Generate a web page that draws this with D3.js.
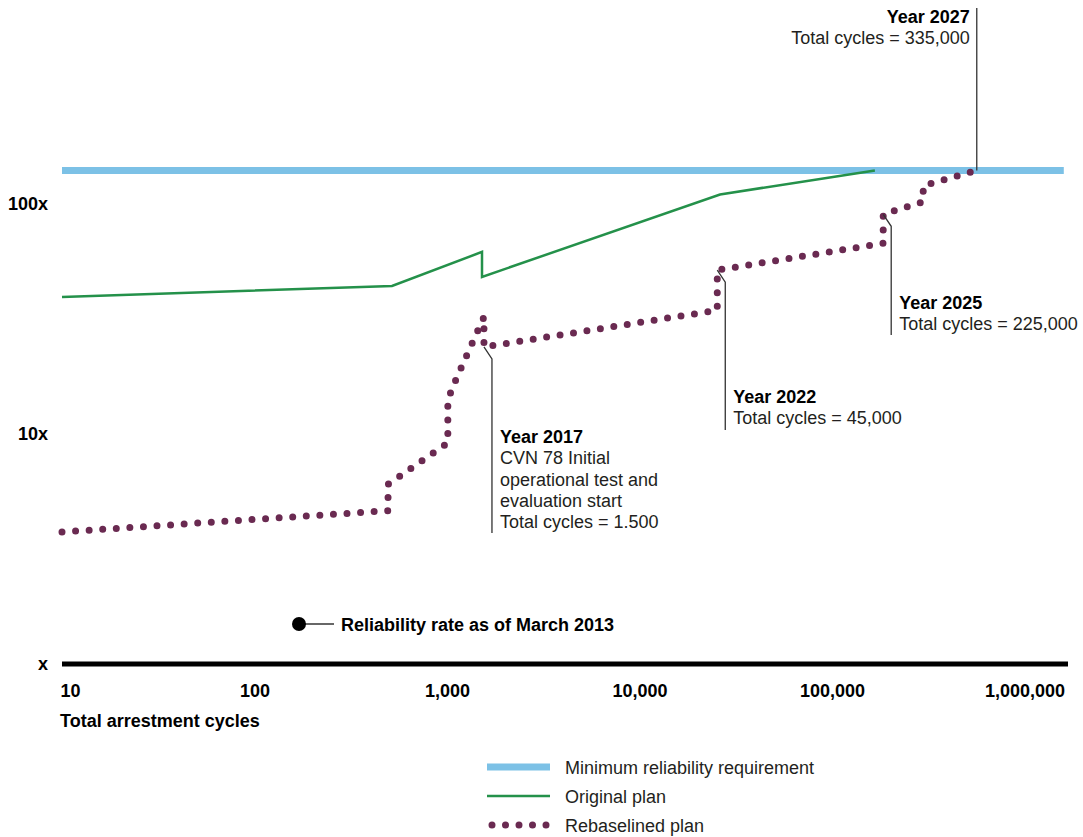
<!DOCTYPE html>
<html>
<head>
<meta charset="utf-8">
<script src="https://cdn.jsdelivr.net/npm/d3@7"></script>
<style>
  body { margin: 0; background: #fff; }
  svg { font-family: "Liberation Sans", Arial, sans-serif; }
</style>
</head>
<body>
<svg id="chart" width="1083" height="837"></svg>
<script>
// values
var tickValues = [10, 100, 1000, 10000, 100000, 1000000]
var tickLabels = ["10", "100", "1,000", "10,000", "100,000", "1,000,000"]
var yTickValues = [1, 10, 100]
var yTickLabels = ["x", "10x", "100x"]

var requirementCycles = [10, 1600000]
var requirementRate = 140

var originalCycles = [10, 518, 1520, 1520, 26200, 167000]
var originalRates = [39.4, 44, 61.9, 48.2, 110, 140]

var rebaselinedCycles = [10, 494, 494, 1010, 1010, 1050, 1122, 1282, 1556, 1556, 25350, 25350, 184500, 184500, 297700, 297700, 565000]
var rebaselinedRates = [3.75, 4.64, 6.04, 9.14, 13.6, 15.4, 17.5, 22.5, 32.3, 23.9, 34.5, 51.6, 67.5, 90.2, 102.3, 120, 140]

var annotations = [
    {cycles: 1556, rate: 23.9, lineEnd: 533, textTop: 443, lines: ["Year 2017", "CVN 78 Initial", "operational test and", "evaluation start", "Total cycles = 1.500"]},
    {cycles: 25350, rate: 51.6, lineEnd: 430, textTop: 403, lines: ["Year 2022", "Total cycles = 45,000"]},
    {cycles: 184500, rate: 90.2, lineEnd: 335, textTop: 309, lines: ["Year 2025", "Total cycles = 225,000"]}
]
var topAnnotation = {cycles: 565000, rate: 140, lines: ["Year 2027", "Total cycles = 335,000"]}

var colors = {
    requirement: "#7cc1e6",
    original: "#24914a",
    rebaselined: "#6a2a51",
    text: "#231f20"
}

var fontSize = 18

var svg = d3.select("#chart")

var xScale = d3.scaleLog()
               .domain([10, 1000000])
               .range([62, 1024.5])
var yScale = d3.scaleLog()
               .domain([1, 1000])
               .range([664, -26])

var line = d3.line()
             .x(d => xScale(d[0]))
             .y(d => yScale(d[1]))

// requirement
svg.append("path")
   .datum(requirementCycles.map(c => [c, requirementRate]))
   .attr("d", line)
   .attr("fill", "none")
   .attr("stroke", colors.requirement)
   .attr("stroke-width", 7)

// original plan
svg.append("path")
   .datum(originalCycles.map((c, i) => [c, originalRates[i]]))
   .attr("d", line)
   .attr("fill", "none")
   .attr("stroke", colors.original)
   .attr("stroke-width", 2.5)

// rebaselined plan, round dots
svg.append("path")
   .datum(rebaselinedCycles.map((c, i) => [c, rebaselinedRates[i]]))
   .attr("d", line)
   .attr("fill", "none")
   .attr("stroke", colors.rebaselined)
   .attr("stroke-width", 7)
   .attr("stroke-linecap", "round")
   .attr("stroke-dasharray", "0 13.6")

// annotations with leader lines
annotations.forEach(a => {
    var x0 = xScale(a.cycles), y0 = yScale(a.rate)
    var g = svg.append("g")
    g.append("path")
     .attr("d", `M${x0},${y0}L${x0 + 8},${y0 + 12}L${x0 + 8},${a.lineEnd}`)
     .attr("fill", "none")
     .attr("stroke", "#333")
     .attr("stroke-width", 1.3)
    g.selectAll("text")
     .data(a.lines)
     .enter()
     .append("text")
     .attr("x", x0 + 16)
     .attr("y", (d, i) => a.textTop + i * 21.3)
     .attr("font-size", fontSize)
     .attr("font-weight", (d, i) => i === 0 ? "bold" : "normal")
     .attr("fill", (d, i) => i === 0 ? "#000" : colors.text)
     .text(d => d)
})

var tx = xScale(topAnnotation.cycles)
svg.append("line")
   .attr("x1", tx).attr("x2", tx)
   .attr("y1", 8).attr("y2", yScale(topAnnotation.rate))
   .attr("stroke", "#333")
   .attr("stroke-width", 1.3)
svg.append("g")
   .selectAll("text")
   .data(topAnnotation.lines)
   .enter()
   .append("text")
   .attr("x", tx - 7)
   .attr("y", (d, i) => 23 + i * 21.3)
   .attr("text-anchor", "end")
   .attr("font-size", fontSize)
   .attr("font-weight", (d, i) => i === 0 ? "bold" : "normal")
   .attr("fill", (d, i) => i === 0 ? "#000" : colors.text)
   .text(d => d)

// x axis
svg.append("line")
   .attr("x1", 62).attr("x2", 1068)
   .attr("y1", yScale(1)).attr("y2", yScale(1))
   .attr("stroke", "#000")
   .attr("stroke-width", 5)

var xAxisGen = d3.axisBottom(xScale)
                 .tickValues(tickValues)
                 .tickFormat((d, i) => tickLabels[i])
                 .tickSize(0)
var xAxis = svg.append("g")
               .attr("transform", "translate(0,681)")
               .call(xAxisGen)
xAxis.select(".domain").remove()
xAxis.selectAll("text")
     .attr("font-family", "Liberation Sans, Arial, sans-serif")
     .attr("font-size", fontSize)
     .attr("font-weight", "bold")
     .attr("fill", "#000")
xAxis.selectAll(".tick").filter((d, i) => i === 0)
     .select("text").attr("text-anchor", "start").attr("x", -2)

svg.append("text")
   .attr("x", 60)
   .attr("y", 727)
   .attr("font-size", fontSize)
   .attr("font-weight", "bold")
   .text("Total arrestment cycles")

// y axis labels
var yAxisGen = d3.axisLeft(yScale)
                 .tickValues(yTickValues)
                 .tickFormat((d, i) => yTickLabels[i])
                 .tickSize(0)
var yAxis = svg.append("g")
               .attr("transform", "translate(51,0)")
               .call(yAxisGen)
yAxis.select(".domain").remove()
yAxis.selectAll("text")
     .attr("font-family", "Liberation Sans, Arial, sans-serif")
     .attr("font-size", fontSize)
     .attr("font-weight", "bold")
     .attr("fill", "#000")

// march 2013 marker
svg.append("circle").attr("cx", 299).attr("cy", 624).attr("r", 7).attr("fill", "#000")
svg.append("line").attr("x1", 305).attr("x2", 334).attr("y1", 624).attr("y2", 624)
   .attr("stroke", "#000").attr("stroke-width", 1.2)
svg.append("text").attr("x", 341).attr("y", 631)
   .attr("font-size", fontSize).attr("font-weight", "bold")
   .text("Reliability rate as of March 2013")

// legend
var legend = svg.append("g").attr("transform", "translate(487,0)")
legend.append("line").attr("x1", 0).attr("x2", 63).attr("y1", 767).attr("y2", 767)
      .attr("stroke", colors.requirement).attr("stroke-width", 7)
legend.append("line").attr("x1", 0).attr("x2", 63).attr("y1", 796).attr("y2", 796)
      .attr("stroke", colors.original).attr("stroke-width", 2.5)
legend.append("line").attr("x1", 5).attr("x2", 60).attr("y1", 825).attr("y2", 825)
      .attr("stroke", colors.rebaselined).attr("stroke-width", 7)
      .attr("stroke-linecap", "round").attr("stroke-dasharray", "0 13.5")
legend.selectAll("text")
      .data(["Minimum reliability requirement", "Original plan", "Rebaselined plan"])
      .enter()
      .append("text")
      .attr("x", 78)
      .attr("y", (d, i) => 774 + i * 29)
      .attr("font-size", fontSize)
      .attr("fill", colors.text)
      .text(d => d)
</script>
</body>
</html>
